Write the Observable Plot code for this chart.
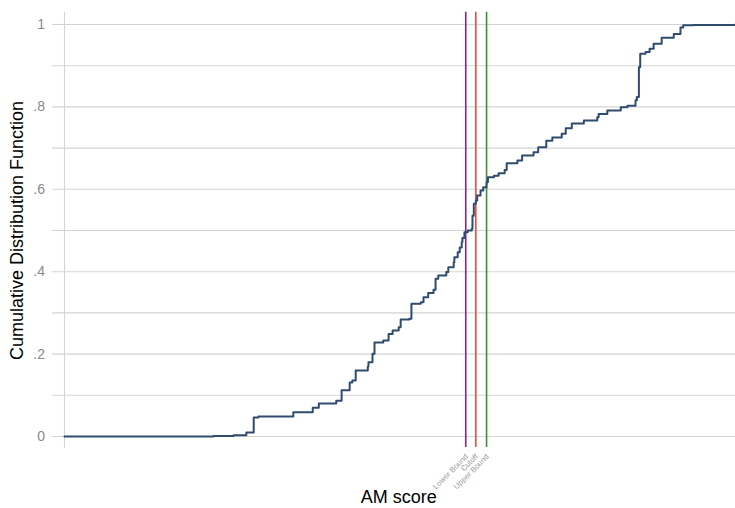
<!DOCTYPE html>
<html>
<head>
<meta charset="utf-8">
<script src="https://cdn.jsdelivr.net/npm/d3@7"></script>
<script src="https://cdn.jsdelivr.net/npm/@observablehq/plot@0.6"></script>
<style>
  body { margin: 0; background: #fff; }
  #chart svg { display: block; }
</style>
</head>
<body>
<div id="chart"></div>
<script>
// AM score (relative position along axis) and cumulative distribution values
const scores = [0, 0.222, 0.252, 0.271, 0.282, 0.289, 0.341, 0.370, 0.379, 0.405, 0.413, 0.425, 0.429, 0.434, 0.452, 0.453, 0.459, 0.462, 0.475, 0.483, 0.489, 0.498, 0.501, 0.514, 0.517, 0.531, 0.535, 0.542, 0.550, 0.553, 0.557, 0.569, 0.572, 0.580, 0.581, 0.586, 0.589, 0.592, 0.593, 0.596, 0.601, 0.607, 0.608, 0.610, 0.613, 0.615, 0.620, 0.624, 0.629, 0.631, 0.640, 0.647, 0.656, 0.659, 0.675, 0.682, 0.699, 0.706, 0.718, 0.727, 0.741, 0.747, 0.756, 0.774, 0.794, 0.796, 0.809, 0.829, 0.839, 0.851, 0.853, 0.856, 0.858, 0.866, 0.872, 0.878, 0.890, 0.908, 0.918, 0.922, 0.937, 1.0];
const cdf = [0, 0.0015, 0.003, 0.0097, 0.046, 0.0485, 0.059, 0.070, 0.080, 0.087, 0.112, 0.131, 0.136, 0.160, 0.170, 0.180, 0.201, 0.228, 0.233, 0.249, 0.257, 0.265, 0.284, 0.286, 0.322, 0.326, 0.338, 0.348, 0.356, 0.383, 0.391, 0.399, 0.411, 0.423, 0.435, 0.447, 0.459, 0.472, 0.482, 0.496, 0.500, 0.504, 0.536, 0.565, 0.573, 0.585, 0.597, 0.605, 0.617, 0.629, 0.633, 0.639, 0.647, 0.663, 0.670, 0.682, 0.690, 0.702, 0.718, 0.726, 0.735, 0.748, 0.760, 0.767, 0.775, 0.783, 0.791, 0.799, 0.803, 0.816, 0.824, 0.896, 0.929, 0.933, 0.941, 0.953, 0.968, 0.977, 0.993, 0.998, 0.999, 1.0];

const boundNames = ["Lower Bound", "Cutoff", "Upper Bound"];
const boundValues = [0.598, 0.613, 0.629];
const boundColors = ["#7f2a8f", "#ee4b3b", "#3a8f2e"];

const yTicks = [0, 0.2, 0.4, 0.6, 0.8, 1];
const yTickLabels = ["0", ".2", ".4", ".6", ".8", "1"];
const yGrid = [0, 0.1, 0.2, 0.3, 0.4, 0.5, 0.6, 0.7, 0.8, 0.9, 1];

const curve = scores.map((s, i) => ({score: s, cdf: cdf[i]}));
const bounds = boundNames.map((n, i) => ({name: n, value: boundValues[i], color: boundColors[i]}));
const ticks = yTicks.map((v, i) => ({v, label: yTickLabels[i]}));

const font = "Liberation Sans, Arial, Helvetica, sans-serif";

const chart = Plot.plot({
  width: 735,
  height: 508,
  marginLeft: 64,
  marginRight: 0,
  marginTop: 24,
  marginBottom: 72,
  style: {fontFamily: font, background: "#fff"},
  x: {domain: [0, 1], axis: null},
  y: {domain: [0, 1], axis: null},
  marks: [
    Plot.ruleY(yGrid, {y: d => d, x1: -0.018, x2: 1, stroke: "#d4d4d4", strokeWidth: 1.1}),
    Plot.ruleX([0], {x: d => d, y1: -0.029, y2: 1.03, stroke: "#d4d4d4", strokeWidth: 1.1}),
    Plot.text(ticks, {x: -0.029, y: "v", text: "label", textAnchor: "end", fill: "#8a8a8a", fontSize: 14}),
    Plot.ruleX(bounds, {x: "value", y1: -0.027, y2: 1.03, stroke: "color", strokeWidth: 1.6}),
    Plot.line(curve, {x: "score", y: "cdf", curve: "step-after", stroke: "#2f4b6e", strokeWidth: 2}),
    Plot.text(bounds, {x: "value", y: -0.046, text: "name", rotate: -45, textAnchor: "end", fill: "#9a9a9a", fontSize: 7.8, dx: 1}),
    Plot.text(["Cumulative Distribution Function"], {x: -0.07, y: 0.5, text: d => d, rotate: -90, fontSize: 18, fill: "#000"}),
    Plot.text(["AM score"], {x: 0.498, y: -0.148, text: d => d, fontSize: 18, fill: "#000"})
  ]
});
document.getElementById("chart").append(chart);
</script>
</body>
</html>
